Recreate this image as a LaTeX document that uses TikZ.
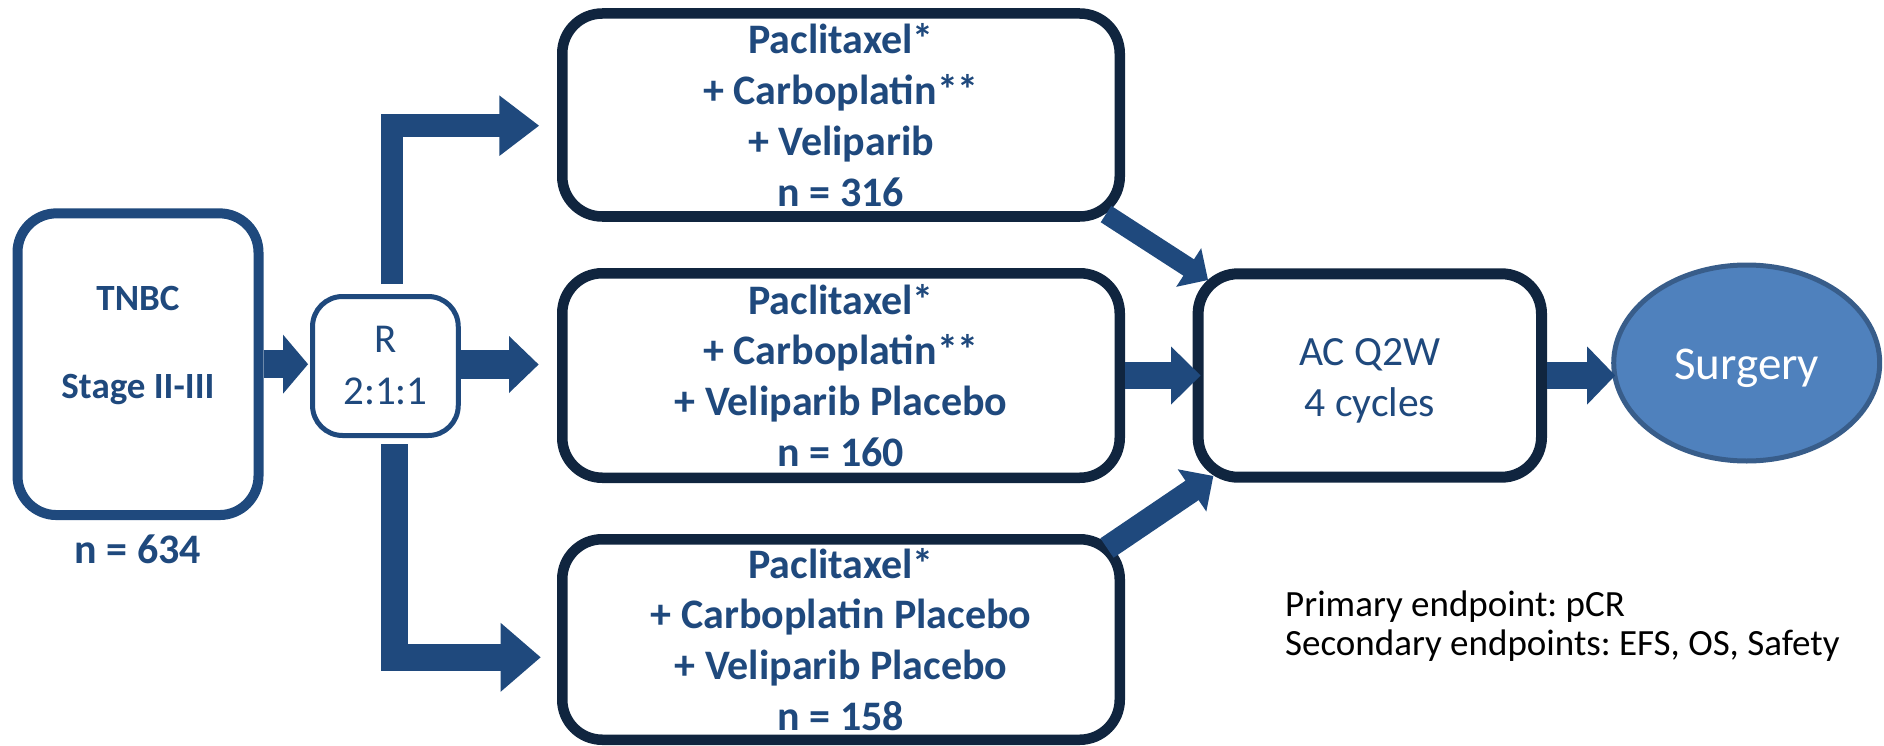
\documentclass[tikz,border=0pt]{standalone}
\usepackage{fontspec}
\setmainfont{Carlito}
\usetikzlibrary{calc,shapes.geometric}
\definecolor{arrowc}{HTML}{1F497D}
\definecolor{navy}{HTML}{10253F}
\definecolor{txtc}{HTML}{1F497D}
\definecolor{surgfill}{HTML}{4F81BD}
\definecolor{surgline}{HTML}{385D8A}
\frenchspacing
% block arrow: #1 from, #2 tip, #3 shaft width, #4 head half width, #5 head length
\newcommand\blockarr[5]{%
  \coordinate (hb) at ($(#2)!#5!(#1)$);
  \draw[arrowc, line width=#3] (#1) -- ($(hb)!0.8pt!(#2)$);
  \fill[arrowc] (#2) -- ($(hb)!#4!90:(#2)$) -- ($(hb)!#4!-90:(#2)$) -- cycle;
}
\begin{document}
\begin{tikzpicture}[x=1pt,y=-1pt,
  tbox/.style={draw=arrowc, line width=10pt, fill=white, rounded corners=39pt,
    minimum width=241pt, minimum height=301.7pt, inner sep=0pt},
  rbox/.style={draw=arrowc, line width=5pt, fill=white, rounded corners=30pt,
    minimum width=145.7pt, minimum height=139pt, inner sep=0pt, align=center,
    text=txtc, font=\fontsize{41}{52}\selectfont},
  dbox/.style={draw=navy, line width=10.5pt, fill=white, rounded corners=40pt,
    minimum width=557.5pt, inner sep=0pt, align=center, text=txtc,
    font=\fontsize{42}{50.8}\selectfont\bfseries},
  acbox/.style={draw=navy, line width=11pt, fill=white, rounded corners=40pt,
    minimum width=343.4pt, minimum height=203.4pt, inner sep=0pt},
  btxt/.style={text=txtc, inner sep=0pt, font=\fontsize{37}{44}\selectfont\bfseries},
  ntxt/.style={text=txtc, inner sep=0pt, font=\fontsize{42}{50}\selectfont\bfseries},
  actxt/.style={text=txtc, inner sep=0pt, align=center, font=\fontsize{41.6}{51}\selectfont},
  eptxt/.style={text=black, inner sep=0pt, align=left, font=\fontsize{37}{38.3}\selectfont},
  surgnode/.style={ellipse, draw=surgline, line width=5pt, fill=surgfill,
    minimum width=266pt, minimum height=196pt, inner sep=0pt},
  surgtxt/.style={text=white, inner sep=0pt, font=\fontsize{47}{56}\selectfont},
  shaft/.style={draw=arrowc, line join=miter, line cap=butt}
]
\useasboundingbox (0,0) rectangle (1884,746);

% boxes
\node[tbox] (tnbc) at (138,364.2) {};
\node[btxt, anchor=base] (tnbct) at ($(tnbc.center)+(0,-54.2)$) {TNBC};
\node[btxt, anchor=base] (stage) at ($(tnbc.center)+(0,33.8)$) {Stage II-III};
\node[ntxt, anchor=base] (n634) at ($(tnbc.south)+(0,43)$) {n = 634};

\node[rbox] (r) at (385.4,366) {R\\2:1:1};

\node[dbox, minimum height=203pt] (box1) at (841,115) {Paclitaxel*\\+ Carboplatin**\\+ Veliparib\\n = 316};
\node[dbox, minimum height=204.5pt] (box2) at (841,375.5) {Paclitaxel*\\+ Carboplatin**\\+ Veliparib Placebo\\n = 160};
\node[dbox, minimum height=200.5pt] (box3) at (841,639.5) {Paclitaxel*\\+ Carboplatin Placebo\\+ Veliparib Placebo\\n = 158};

\node[acbox] (ac) at (1369.8,375.5) {};
\node[actxt, anchor=base] (actext) at ($(ac.center)+(0,40.5)$) {AC Q2W\\4 cycles};

\node[surgnode] (surg) at (1746.7,363) {};
\node[surgtxt, anchor=base] (surgt) at ($(surg.center)+(0,16.3)$) {Surgery};

\node[eptxt, anchor=base west] (ep) at (1285,655) {Primary endpoint: pCR\\Secondary endpoints: EFS, OS, Safety};

% straight arrows
\coordinate (a1s) at (tnbc.east);
\coordinate (a1t) at ($(a1s -| r.west)+(-2,0)$);
\blockarr{a1s}{a1t}{28pt}{29.5pt}{25pt}

\coordinate (a2s) at ($(r.east)+(0,-1.5)$);
\coordinate (a2t) at ($(a2s -| box2.west)+(-18.4,0)$);
\blockarr{a2s}{a2t}{29pt}{28.5pt}{29.6pt}

\coordinate (a3s) at (box2.east);
\coordinate (a3t) at ($(a3s -| ac.west)+(8,0)$);
\blockarr{a3s}{a3t}{27.6pt}{29pt}{29.5pt}

\coordinate (a4s) at (ac.east);
\coordinate (a4t) at ($(a4s -| surg.west)+(4,0)$);
\blockarr{a4s}{a4t}{27.6pt}{29pt}{28pt}

% L-shaped arrows
\coordinate (lts) at ($(r.north)+(6.6,-10)$);
\coordinate (ltt) at ($(box1.west)+(-18,10.7)$);
\coordinate (ltb) at ($(ltt)+(-39.7,0)$);
\draw[shaft, line width=22.6pt] (lts) |- ($(ltb)+(1,0)$);
\fill[arrowc] (ltt) -- ($(ltb)+(0,-30.3)$) -- ($(ltb)+(0,30.3)$) -- cycle;

\coordinate (lbs) at ($(r.south)+(9.2,6)$);
\coordinate (lbt) at ($(box3.west)+(-16.4,17.8)$);
\coordinate (lbb) at ($(lbt)+(-40,0)$);
\draw[shaft, line width=27.3pt] (lbs) |- ($(lbb)+(1,0)$);
\fill[arrowc] (lbt) -- ($(lbb)+(0,-34.5)$) -- ($(lbb)+(0,34.5)$) -- cycle;

% diagonal arrows
\coordinate (d1s) at ($(box1.south east)+(-19,-7.7)$);
\coordinate (d1t) at ($(ac.north west)+(15.4,11.7)$);
\blockarr{d1s}{d1t}{19.5pt}{23pt}{23pt}

\coordinate (d2s) at ($(box3.north east)+(-18,14)$);
\coordinate (d2t) at ($(ac.south west)+(20.7,-6.7)$);
\blockarr{d2s}{d2t}{23.5pt}{25.5pt}{25.7pt}
\end{tikzpicture}
\end{document}
